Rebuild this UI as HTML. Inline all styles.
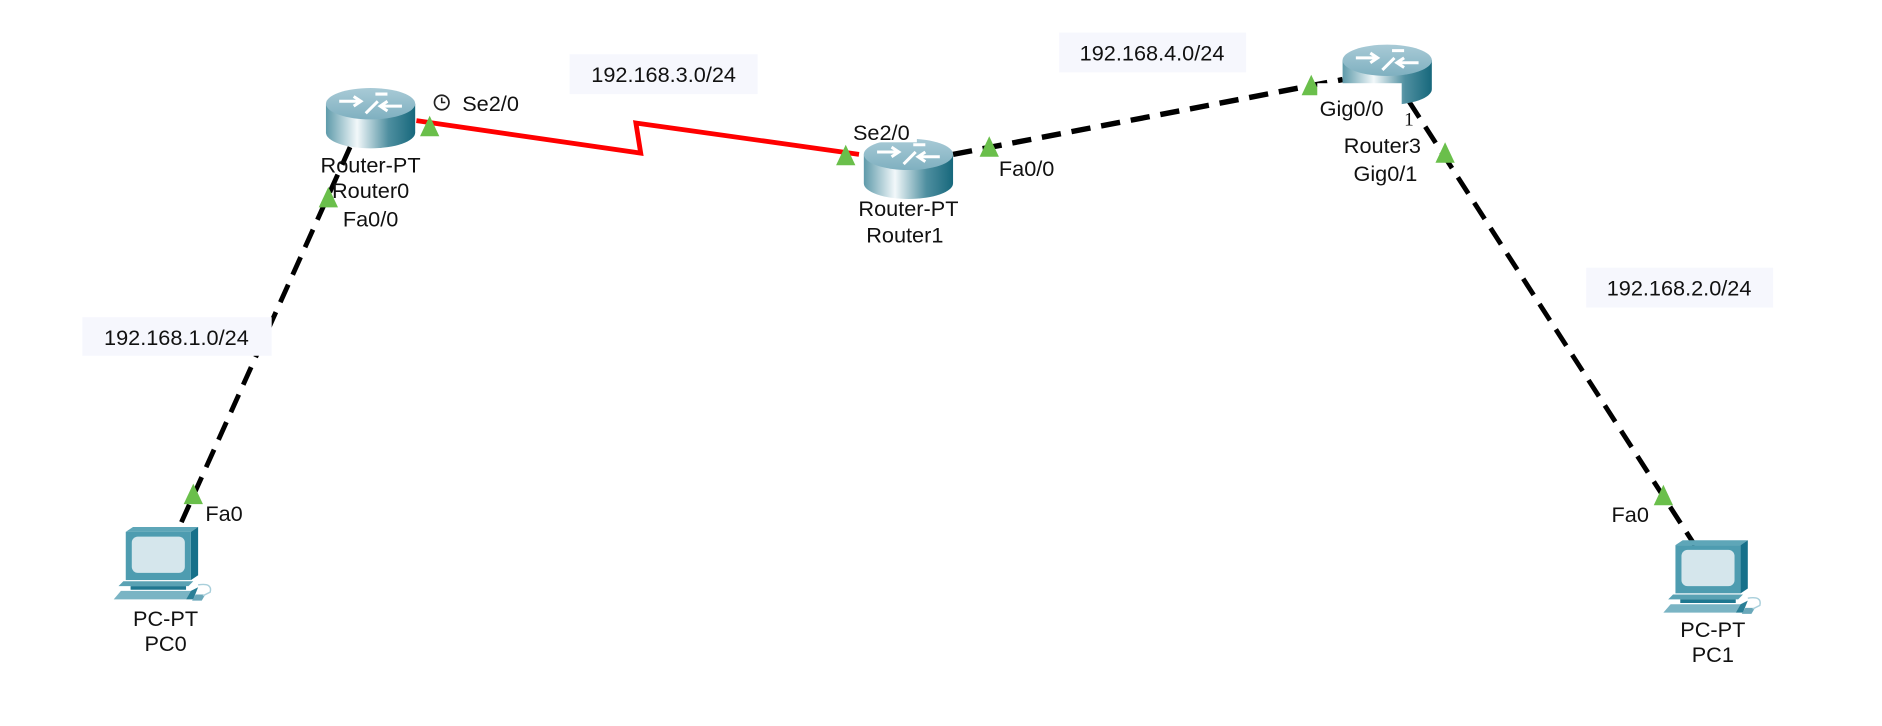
<!DOCTYPE html>
<html><head><meta charset="utf-8"><style>
html,body{margin:0;padding:0;background:#fff;width:1882px;height:726px;overflow:hidden}
svg{display:block}
text{font-family:"Liberation Sans","DejaVu Sans",sans-serif;font-size:18px;fill:#111}
.c{text-anchor:middle}
</style></head><body>
<svg width="1882" height="726" viewBox="0 0 1560 602" xmlns="http://www.w3.org/2000/svg">
<defs>
<linearGradient id="side" x1="0" x2="1" y1="0" y2="0">
<stop offset="0" stop-color="#5e9aaa"/><stop offset="0.35" stop-color="#f2f8fa"/><stop offset="0.7" stop-color="#4f8fa0"/><stop offset="1" stop-color="#17687c"/>
</linearGradient>
<linearGradient id="top" x1="0" x2="0" y1="0" y2="1">
<stop offset="0" stop-color="#a8cad6"/><stop offset="1" stop-color="#7fb0c0"/>
</linearGradient>
<g id="router">
<path d="M-37,0 L-37,24 A37,13 0 0 0 37,24 L37,0 Z" fill="url(#side)"/>
<ellipse cx="0" cy="0" rx="37" ry="13" fill="url(#top)"/>
<path d="M-26,-2 L-8,-2 M-14,-6 L-8,-2 L-14,2 M26,2 L8,2 M14,-2 L8,2 L14,6 M-4,8 L6,-2 M4,-8 L14,-8" stroke="#fff" stroke-width="2.5" fill="none"/>
</g>
<g id="pc">
<path d="M0,4 L6,0 L60,0 L54,4 Z" fill="#5ea6b8"/>
<path d="M54,4 L60,0 L60,40 L54,44 Z" fill="#16708a"/>
<rect x="0" y="4" width="54" height="40" fill="#4e9cb0"/>
<rect x="5" y="8" width="44" height="30" rx="5" fill="#d5e6ec"/>
<path d="M-2,45 L56,45 L52,49 L-6,49 Z" fill="#5aa2b4"/>
<path d="M4,49 L50,49 L50,52 L4,52 Z" fill="#1f7790"/>
<path d="M-4,53 L54,53 L50,60 L-10,60 Z" fill="#7ab4c4"/>
<path d="M54,53 L60,50 L56,60 L50,60 Z" fill="#2a7f96"/>
<path d="M58,56 L66,56 L63,61 L55,61 Z" fill="#6aa8ba"/>
<path d="M60,48 Q72,46 70,54 L64,57" stroke="#a9cfdb" stroke-width="1.2" fill="none"/>
</g>
<polygon id="tri" points="0,-12 -8,5 8,5" fill="#6abf4b"/>
</defs>

<line x1="290" y1="122" x2="147" y2="440" stroke="#000" stroke-width="4" stroke-dasharray="16,9"/>
<line x1="790" y1="128" x2="1113" y2="66" stroke="#000" stroke-width="4.5" stroke-dasharray="16,9"/>
<line x1="1168" y1="84" x2="1405" y2="452" stroke="#000" stroke-width="4" stroke-dasharray="16,9"/>
<polyline points="345,100 531,127 527,102 712,128" fill="none" stroke="#ff0000" stroke-width="4"/>

<rect x="68" y="263" width="157" height="32" fill="#f6f7fd"/>
<text x="146" y="286" class="c">192.168.1.0/24</text>
<rect x="472" y="45" width="156" height="33" fill="#f6f7fd"/>
<text x="550" y="68" class="c">192.168.3.0/24</text>
<rect x="878" y="27" width="155" height="33" fill="#f6f7fd"/>
<text x="955" y="50" class="c">192.168.4.0/24</text>
<rect x="1315" y="222" width="155" height="33" fill="#f6f7fd"/>
<text x="1392" y="245" class="c">192.168.2.0/24</text>

<use href="#router" x="307" y="86"/>
<use href="#router" x="753" y="128"/>
<use href="#router" x="1150" y="50"/>

<use href="#pc" x="104" y="437"/>
<use href="#pc" x="1389" y="448"/>

<use href="#tri" x="356" y="108"/>
<use href="#tri" x="272" y="167"/>
<use href="#tri" x="160" y="413"/>
<use href="#tri" x="701" y="132"/>
<use href="#tri" x="820" y="125"/>
<use href="#tri" x="1087" y="74"/>
<use href="#tri" x="1198" y="130"/>
<use href="#tri" x="1379" y="414"/>

<text x="307" y="143" class="c">Router-PT</text>
<text x="307" y="164" class="c">Router0</text>
<text x="284" y="188">Fa0/0</text>
<circle cx="366" cy="85" r="6" fill="none" stroke="#222" stroke-width="1.4"/>
<path d="M366,81 L366,85 L369,85" stroke="#222" stroke-width="1.3" fill="none"/>
<text x="383" y="92">Se2/0</text>

<rect x="704" y="98" width="56" height="20" fill="#fff"/>
<text x="707" y="116">Se2/0</text>
<text x="828" y="146">Fa0/0</text>
<text x="753" y="179" class="c">Router-PT</text>
<text x="750" y="201" class="c">Router1</text>

<rect x="1092" y="69" width="70" height="34" fill="#fff"/>
<text x="1094" y="96">Gig0/0</text>
<text x="1164" y="104" style="font-family:'Liberation Serif',serif;font-size:16px">1</text>
<text x="1114" y="127">Router3</text>
<text x="1122" y="150">Gig0/1</text>

<text x="170" y="432">Fa0</text>
<text x="137" y="519" class="c">PC-PT</text>
<text x="137" y="540" class="c">PC0</text>
<text x="1336" y="433">Fa0</text>
<text x="1420" y="528" class="c">PC-PT</text>
<text x="1420" y="549" class="c">PC1</text>
</svg>
</body></html>
